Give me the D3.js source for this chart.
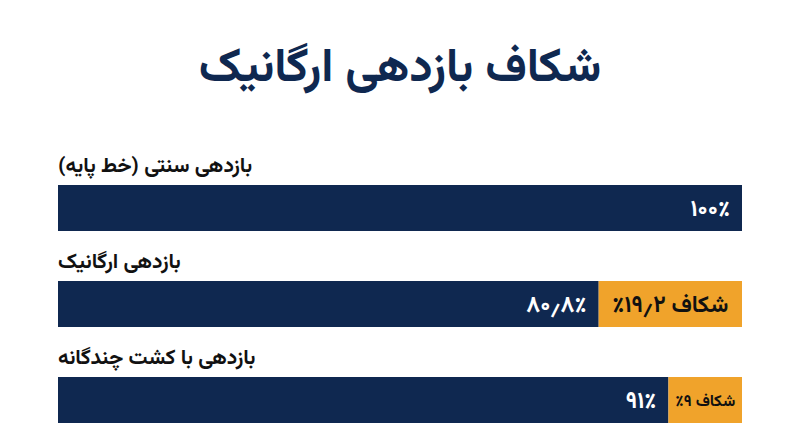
<!DOCTYPE html>
<html lang="fa">
<head>
<meta charset="utf-8">
<script src="https://cdn.jsdelivr.net/npm/d3@7"></script>
<style>
  html, body { margin: 0; padding: 0; background: #fff; }
  svg { display: block; font-family: Vazirmatn, "Noto Sans Arabic", "DejaVu Sans", sans-serif; }
</style>
</head>
<body>
<svg id="chart" width="800" height="447"></svg>
<script>
// data
const title = "شکاف بازدهی ارگانیک";
const categories = ["بازدهی سنتی (خط پایه)", "بازدهی ارگانیک", "بازدهی با کشت چندگانه"];
const values = [100, 80.8, 91];
const valueLabels = ["۱۰۰٪", "۸۰٫۸٪", "۹۱٪"];
const gapLabels = ["", "شکاف ۱۹٫۲٪", "شکاف ۹٪"];

const navy = "#0f2850";
const gold = "#f0a32b";
const goldPad = 12;

const svg = d3.select("#chart");
const width = 800;

const x = d3.scaleLinear().domain([0, 100]).range([58, 742]);
const y = d3.scaleBand().domain(categories).range([135, 423]).paddingInner(0).paddingOuter(0);
const barH = 46;

svg.append("text")
    .attr("x", width / 2)
    .attr("y", 81)
    .attr("text-anchor", "middle")
    .attr("fill", navy)
    .style("font-size", "47px")
    .style("font-weight", "700")
    .text(title);

const rows = svg.append("g")
    .selectAll("g")
    .data(categories)
    .enter()
    .append("g")
    .attr("transform", d => `translate(0,${y(d) + y.bandwidth() - barH})`);

rows.append("text")
    .attr("x", x(0))
    .attr("y", -13)
    .attr("fill", "#111")
    .style("font-size", "21px")
    .style("font-weight", "700")
    .text(d => d);

rows.each(function(d, i) {
    const g = d3.select(this);
    const gap = 100 - values[i];
    const goldW = gap > 0 ? x(100) - x(values[i]) + goldPad : 0;
    const navyEnd = x(100) - goldW;

    g.append("rect")
        .attr("x", x(0))
        .attr("y", 0)
        .attr("width", navyEnd - x(0))
        .attr("height", barH)
        .attr("fill", navy);

    g.append("text")
        .attr("x", navyEnd - 12)
        .attr("y", barH / 2)
        .attr("dy", "0.35em")
        .attr("text-anchor", "start")
        .style("direction", "rtl")
        .attr("fill", "#fff")
        .style("font-size", "23px")
        .style("font-weight", "700")
        .text(valueLabels[i]);

    if (goldW > 0) {
        g.append("rect")
            .attr("x", navyEnd)
            .attr("y", 0)
            .attr("width", goldW)
            .attr("height", barH)
            .attr("fill", gold);

        const t = g.append("text")
            .attr("x", navyEnd + goldW / 2)
            .attr("y", barH / 2)
            .attr("dy", "0.35em")
            .attr("text-anchor", "middle")
            .style("direction", "rtl")
            .attr("fill", "#111")
            .style("font-size", "23px")
            .style("font-weight", "700")
            .text(gapLabels[i]);

        // shrink label to fit narrow gap segment
        let fs = 23;
        while (t.node().getComputedTextLength() > goldW - 10 && fs > 10) {
            fs -= 1;
            t.style("font-size", fs + "px");
        }
    }
});
</script>
</body>
</html>
